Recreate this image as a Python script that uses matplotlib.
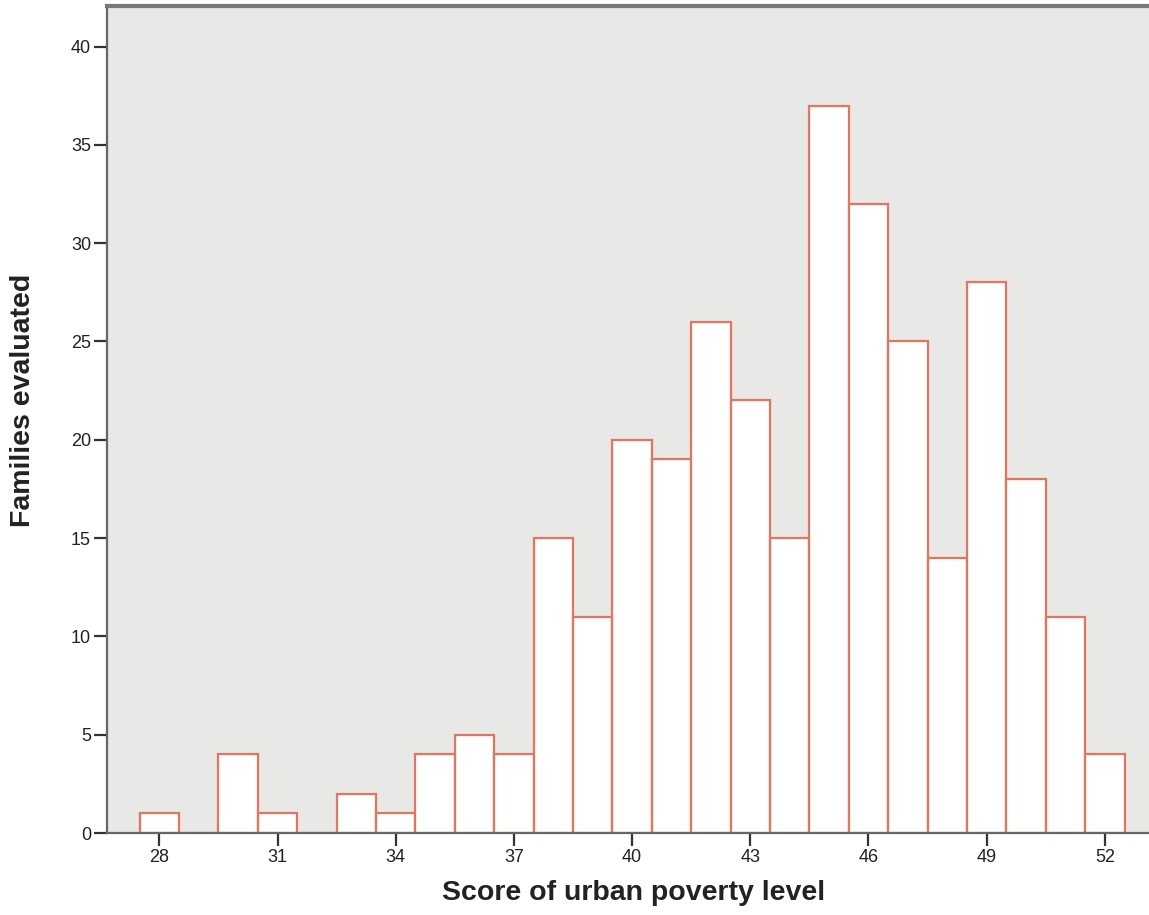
import matplotlib
matplotlib.use("Agg")
import matplotlib.pyplot as plt

# scores (bin centres) and how many families fall in each
scores = list(range(28, 53))
families = [1, 0, 4, 1, 0, 2, 1, 4, 5, 4, 15, 11, 20, 19, 26, 22, 15,
            37, 32, 25, 14, 28, 18, 11, 4]
x_ticks = [28, 31, 34, 37, 40, 43, 46, 49, 52]
y_ticks = [0, 5, 10, 15, 20, 25, 30, 35, 40]

plt.rcParams["font.family"] = ["Liberation Sans", "DejaVu Sans"]

fig = plt.figure(figsize=(11.49, 9.15), dpi=100)
ax = fig.add_axes([0.0931, 0.0896, 0.9069, 0.9038])
ax.set_facecolor("#e8e8e6")

ax.bar(scores, families, width=1.0, color="white", edgecolor="#e8735a",
       linewidth=1.6)

ax.set_xlim(26.67, 53.12)
ax.set_ylim(0, 42.06)
ax.set_xticks(x_ticks)
ax.set_yticks(y_ticks)
ax.tick_params(axis="both", labelsize=13, color="#333333", width=1.6,
               length=9.5, pad=2, labelcolor="#222222")

for side in ["left", "bottom"]:
    ax.spines[side].set_color("#666666")
    ax.spines[side].set_linewidth(1.6)
ax.spines["top"].set_color("#777777")
ax.spines["top"].set_linewidth(3)
ax.spines["right"].set_visible(False)

ax.set_xlabel("Score of urban poverty level", fontsize=20.5, fontweight="bold",
              color="#222222")
ax.set_ylabel("Families evaluated", fontsize=20.5, fontweight="bold",
              color="#222222")
ax.xaxis.set_label_coords(0.505, -0.072)
ax.yaxis.set_label_coords(-0.0806, 0.5236)
ax.xaxis.label.set_va("center")
ax.yaxis.label.set_va("center")

fig.savefig("out.png", dpi=100)
